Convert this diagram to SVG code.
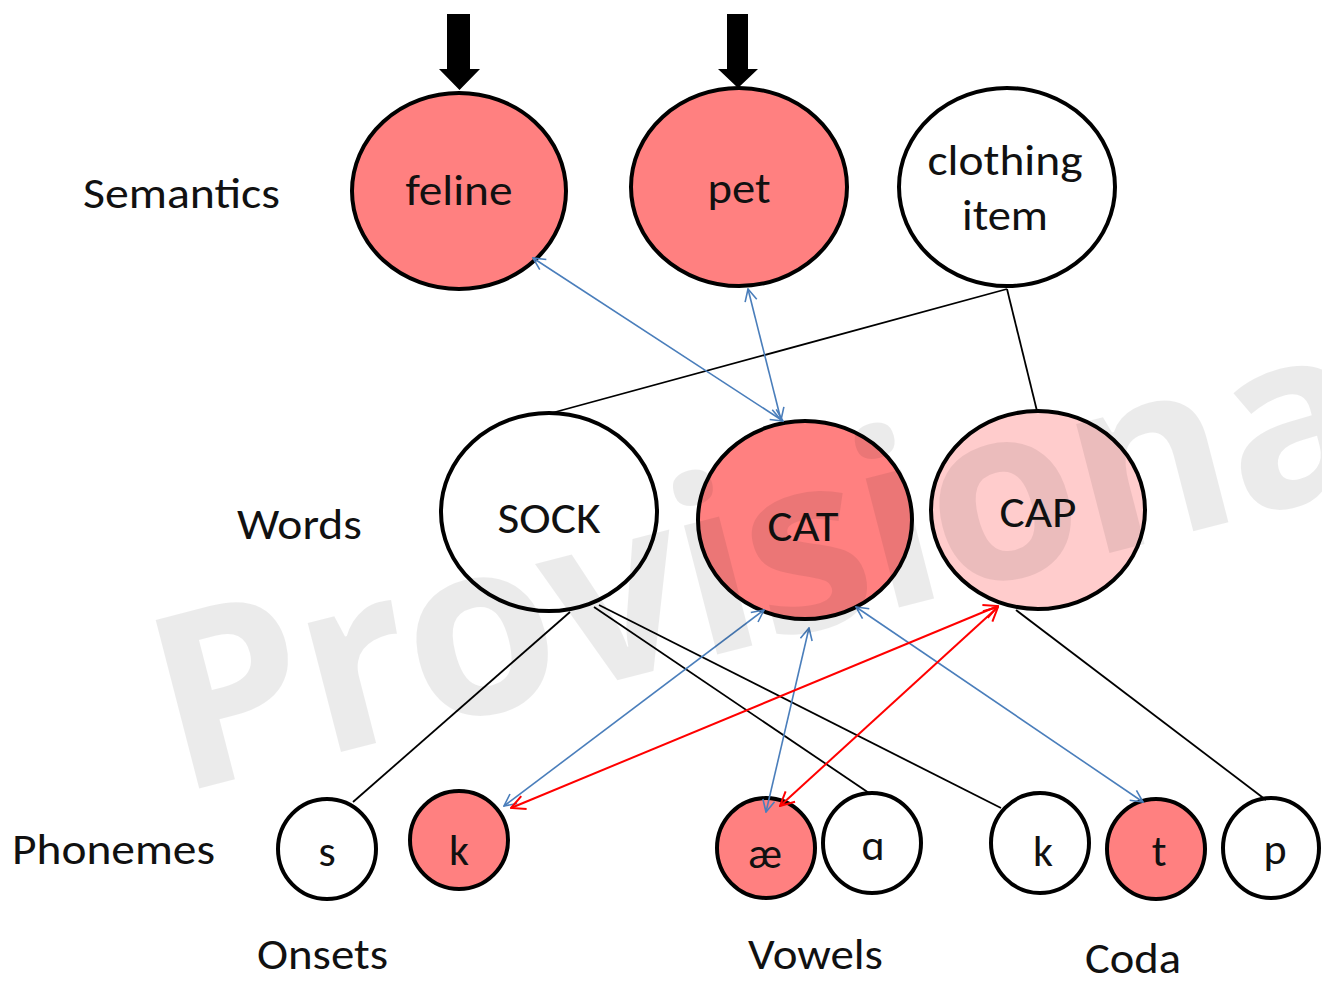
<svg xmlns="http://www.w3.org/2000/svg" width="1322" height="981" viewBox="0 0 1322 981">
<style>
  .t { font-family: Carlito, Lato, "Noto Sans", "DejaVu Sans", sans-serif; font-size: 44px; fill: #111; }
  .c { text-anchor: middle; }
  .node { stroke: #000; stroke-width: 4; }
  .on { fill: #ff8080; }
  .off { fill: #ffffff; }
  .mid { fill: #ffcccc; }
  .blk { stroke: #000; stroke-width: 1.8; fill: none; }
  .blu { stroke: #4a7ebb; stroke-width: 1.6; fill: none; marker-start: url(#ab); marker-end: url(#ab); }
  .red { stroke: #ff0000; stroke-width: 2; fill: none; marker-start: url(#ar); marker-end: url(#ar); }
  .wm { font-family: "Open Sans", "Liberation Sans", sans-serif; font-weight: bold; font-size: 244px; letter-spacing: -4px; fill: #000; fill-opacity: 0.08; }
</style>
<defs>
  <marker id="ab" viewBox="0 0 14 14" refX="13" refY="7" markerWidth="14" markerHeight="14" markerUnits="userSpaceOnUse" orient="auto-start-reverse">
    <path d="M1,1 L13,7 L1,13" fill="none" stroke="#4a7ebb" stroke-width="1.6"/>
  </marker>
  <marker id="ar" viewBox="0 0 16 16" refX="15" refY="8" markerWidth="16" markerHeight="16" markerUnits="userSpaceOnUse" orient="auto-start-reverse">
    <path d="M1,1 L15,8 L1,15" fill="none" stroke="#ff0000" stroke-width="2"/>
  </marker>
</defs>
<rect width="1322" height="981" fill="#ffffff"/>

<!-- layer labels -->
<g id="labels">
  <text class="t" x="83" y="208" textLength="197" lengthAdjust="spacingAndGlyphs">Semantics</text>
  <text class="t" x="237" y="539" textLength="125" lengthAdjust="spacingAndGlyphs">Words</text>
  <text class="t" x="12" y="864" textLength="203" lengthAdjust="spacingAndGlyphs">Phonemes</text>
  <text class="t" x="257" y="969" textLength="131" lengthAdjust="spacingAndGlyphs">Onsets</text>
  <text class="t" x="748" y="969" textLength="135" lengthAdjust="spacingAndGlyphs">Vowels</text>
  <text class="t" x="1085" y="973" textLength="96" lengthAdjust="spacingAndGlyphs">Coda</text>
</g>

<!-- input arrows -->
<g id="inputs" fill="#000">
  <polygon points="447,14 470,14 470,69 480,69 459.5,90 439,69 447,69"/>
  <polygon points="727,14 748,14 748,69 758,69 738,88 718,69 727,69"/>
</g>

<!-- semantic nodes -->
<g id="n-feline">
  <ellipse class="node on" cx="459" cy="191" rx="107" ry="98"/>
  <text class="t c" x="459" y="205" textLength="107" lengthAdjust="spacingAndGlyphs">feline</text>
</g>
<g id="n-pet">
  <ellipse class="node on" cx="739" cy="187" rx="108" ry="99"/>
  <text class="t c" x="739" y="203" textLength="63" lengthAdjust="spacingAndGlyphs">pet</text>
</g>
<g id="n-clothing">
  <ellipse class="node off" cx="1007" cy="187" rx="108" ry="99"/>
  <text class="t c" x="1005" y="175" textLength="155" lengthAdjust="spacingAndGlyphs">clothing</text>
  <text class="t c" x="1005" y="230" textLength="86" lengthAdjust="spacingAndGlyphs">item</text>
</g>

<!-- word nodes -->
<g id="n-sock">
  <ellipse class="node off" cx="549" cy="512" rx="108" ry="99"/>
  <text class="t c" x="549" y="533" textLength="103" lengthAdjust="spacingAndGlyphs">SOCK</text>
</g>
<g id="n-cat">
  <ellipse class="node on" cx="805" cy="520" rx="107" ry="99"/>
  <text class="t c" x="803" y="541" textLength="71" lengthAdjust="spacingAndGlyphs">CAT</text>
</g>
<g id="n-cap">
  <ellipse class="node mid" cx="1038" cy="510" rx="107" ry="99"/>
  <text class="t c" x="1038" y="527" textLength="77" lengthAdjust="spacingAndGlyphs">CAP</text>
</g>

<!-- phoneme nodes -->
<g id="n-s">
  <ellipse class="node off" cx="327" cy="849" rx="49" ry="50"/>
  <text class="t c" x="327" y="866">s</text>
</g>
<g id="n-k1">
  <ellipse class="node on" cx="459" cy="840" rx="49" ry="49"/>
  <text class="t c" x="459" y="865">k</text>
</g>
<g id="n-ae">
  <ellipse class="node on" cx="766" cy="848" rx="49" ry="50"/>
  <text class="t c" x="765" y="868">æ</text>
</g>
<g id="n-a">
  <ellipse class="node off" cx="872" cy="843" rx="49" ry="50"/>
  <text class="t c" x="873" y="860">ɑ</text>
</g>
<g id="n-k2">
  <ellipse class="node off" cx="1040" cy="843" rx="49" ry="50"/>
  <text class="t c" x="1043" y="866">k</text>
</g>
<g id="n-t">
  <ellipse class="node on" cx="1156" cy="849" rx="49" ry="50"/>
  <text class="t c" x="1159" y="866">t</text>
</g>
<g id="n-p">
  <ellipse class="node off" cx="1271" cy="848" rx="48" ry="50"/>
  <text class="t c" x="1275" y="864">p</text>
</g>

<!-- connectors -->
<g id="connectors">
  <line class="blk" x1="1007" y1="289" x2="548" y2="414" stroke-width="2.4"/>
  <line class="blk" x1="1007" y1="289" x2="1037" y2="411"/>
  <line class="blk" x1="570" y1="612" x2="353" y2="802"/>
  <line class="blk" x1="594" y1="607" x2="869" y2="793"/>
  <line class="blk" x1="599" y1="605" x2="1001" y2="808"/>
  <line class="blk" x1="1016" y1="610" x2="1266" y2="800"/>

  <line class="blu" x1="533" y1="258" x2="783" y2="421"/>
  <line class="blu" x1="748" y1="289" x2="781" y2="420"/>
  <line class="blu" x1="764" y1="610" x2="504" y2="806"/>
  <line class="blu" x1="809" y1="628" x2="766" y2="812"/>
  <line class="blu" x1="856" y1="607" x2="1143" y2="802"/>

  <line class="red" x1="998" y1="606" x2="511" y2="808"/>
  <line class="red" x1="998" y1="607" x2="780" y2="806"/>
</g>

<!-- watermark -->
<text class="wm" x="178" y="794" transform="rotate(-14.5 178 794)">Provisional</text>
</svg>
